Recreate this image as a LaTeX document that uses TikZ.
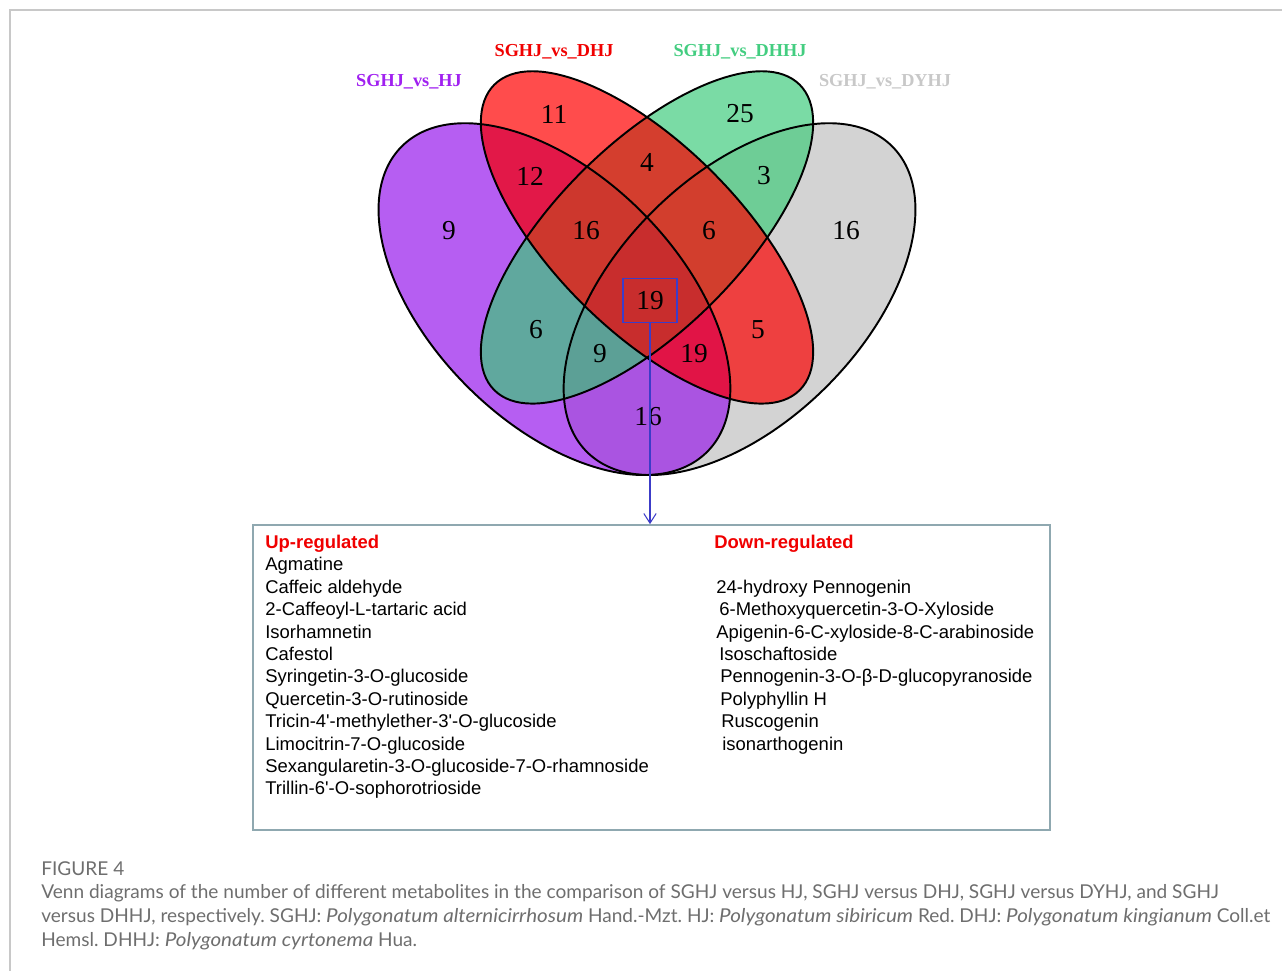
\documentclass[tikz,border=0pt]{standalone}
\usepackage{fontspec}
\setmainfont{Liberation Serif}
\newfontfamily\arialfont{Liberation Sans}
\newfontfamily\capfont{Lato}
\usetikzlibrary{arrows.meta}
\frenchspacing
\newcommand{\species}[1]{{\itshape\addfontfeature{FakeStretch=1.08}#1}}

% set fills (one colour per exact region)
\definecolor{cP}{RGB}{182,94,242}
\definecolor{cR}{RGB}{255,76,76}
\definecolor{cG}{RGB}{122,219,165}
\definecolor{cY}{RGB}{211,211,211}
\definecolor{cPR}{RGB}{226,24,72}
\definecolor{cPG}{RGB}{96,168,158}
\definecolor{cPY}{RGB}{170,84,225}
\definecolor{cRG}{RGB}{212,62,46}
\definecolor{cRY}{RGB}{238,64,64}
\definecolor{cGY}{RGB}{110,205,150}
\definecolor{cPRG}{RGB}{205,55,45}
\definecolor{cPRY}{RGB}{225,20,70}
\definecolor{cPGY}{RGB}{92,160,150}
\definecolor{cRGY}{RGB}{210,62,45}
\definecolor{cAll}{RGB}{200,45,45}
% labels, box, caption
\definecolor{labpurple}{RGB}{160,32,240}
\definecolor{labred}{RGB}{240,0,0}
\definecolor{labgreen}{RGB}{67,205,128}
\definecolor{labgray}{RGB}{200,200,200}
\definecolor{arrowblue}{RGB}{60,60,200}
\definecolor{boxgray}{RGB}{143,168,176}
\definecolor{capgray}{RGB}{110,110,110}
\definecolor{framegray}{RGB}{200,200,200}

\newcommand{\ellHJ}{(0.35,0.47) ellipse [x radius=0.35, y radius=0.2, rotate=-45]}
\newcommand{\ellDHJ}{(0.5,0.57) ellipse [x radius=0.35, y radius=0.15, rotate=-45]}
\newcommand{\ellDHHJ}{(0.5,0.57) ellipse [x radius=0.35, y radius=0.15, rotate=45]}
\newcommand{\ellDYHJ}{(0.65,0.47) ellipse [x radius=0.35, y radius=0.2, rotate=45]}

\tikzset{
  venn line/.style={draw=black, line width=1.1pt},
  setlabel/.style={inner sep=0pt, font=\fontsize{10.4pt}{12pt}\selectfont\bfseries},
  count/.style={inner sep=0pt, font=\fontsize{15.6pt}{18pt}\selectfont},
  listhead/.style={anchor=base west, inner sep=0pt, text=labred, font=\arialfont\fontsize{10.5pt}{12.7pt}\selectfont\bfseries},
  listitem/.style={anchor=base west, inner sep=0pt, font=\arialfont\fontsize{10.5pt}{12.7pt}\selectfont},
  captext/.style={anchor=base west, inner sep=0pt, text=capgray, font=\capfont\fontsize{10.85pt}{13pt}\selectfont},
}

\begin{document}
\begin{tikzpicture}[x=0.02cm, y=0.02cm]
\useasboundingbox (0,0) rectangle (1282,-971);
\draw[framegray, line width=0.8pt] (1282,-10) -- (10,-10) -- (10,-971);

% Venn: regions painted from single sets up to all four
\begin{scope}[shift={(338.5,-589.1)}, scale=617]
\fill[cP] \ellHJ;
\fill[cR] \ellDHJ;
\fill[cG] \ellDHHJ;
\fill[cY] \ellDYHJ;
\begin{scope} \clip \ellHJ; \fill[cPR] \ellDHJ; \end{scope}
\begin{scope} \clip \ellHJ; \fill[cPG] \ellDHHJ; \end{scope}
\begin{scope} \clip \ellHJ; \fill[cPY] \ellDYHJ; \end{scope}
\begin{scope} \clip \ellDHJ; \fill[cRG] \ellDHHJ; \end{scope}
\begin{scope} \clip \ellDHJ; \fill[cRY] \ellDYHJ; \end{scope}
\begin{scope} \clip \ellDHHJ; \fill[cGY] \ellDYHJ; \end{scope}
\begin{scope} \clip \ellHJ; \clip \ellDHJ; \fill[cPRG] \ellDHHJ; \end{scope}
\begin{scope} \clip \ellHJ; \clip \ellDHJ; \fill[cPRY] \ellDYHJ; \end{scope}
\begin{scope} \clip \ellHJ; \clip \ellDHHJ; \fill[cPGY] \ellDYHJ; \end{scope}
\begin{scope} \clip \ellDHJ; \clip \ellDHHJ; \fill[cRGY] \ellDYHJ; \end{scope}
\begin{scope} \clip \ellHJ; \clip \ellDHJ; \clip \ellDHHJ; \fill[cAll] \ellDYHJ; \end{scope}
\draw[venn line] \ellHJ;
\draw[venn line] \ellDHJ;
\draw[venn line] \ellDHHJ;
\draw[venn line] \ellDYHJ;
\end{scope}

% set names
\node[setlabel, text=labpurple] (labHJ) at (409,-82) {SGHJ\_vs\_HJ};
\node[setlabel, text=labred] (labDHJ) at (554,-52) {SGHJ\_vs\_DHJ};
\node[setlabel, text=labgreen] (labDHHJ) at (740,-52) {SGHJ\_vs\_DHHJ};
\node[setlabel, text=labgray] (labDYHJ) at (885,-82) {SGHJ\_vs\_DYHJ};

% counts
\node[count] (nP) at (449,-231) {9};
\node[count] (nR) at (554,-114) {11};
\node[count] (nG) at (740,-114) {25};
\node[count] (nY) at (846,-231) {16};
\node[count] (nPR) at (530,-176) {12};
\node[count] (nRG) at (647,-162) {4};
\node[count] (nGY) at (764,-176) {3};
\node[count] (nPRG) at (586,-231) {16};
\node[count] (nRGY) at (709,-231) {6};
\node[count] (nPG) at (536,-330) {6};
\node[count] (nRY) at (758,-330) {5};
\node[count] (nPGY) at (600,-354) {9};
\node[count] (nPRY) at (694,-354) {19};
\node[count] (nPY) at (648,-417) {16};
\node[count, draw=arrowblue, line width=0.6pt, minimum width=1.08cm, minimum height=0.88cm] (nAll) at (650,-300.5) {19};

% metabolite list
\node[draw=boxgray, line width=1pt, minimum width=15.94cm, minimum height=6.1cm, inner sep=0pt] (list) at (651.5,-677.5) {};
\draw[arrowblue, line width=0.6pt, -{Straight Barb[length=5.5pt, width=7pt]}] (nAll.south) -- (nAll.south |- list.north);

\node[listhead] (uphead) at (265,-548.5) {Up-regulated};
\foreach \t [count=\i] in {Agmatine, Caffeic aldehyde, 2-Caffeoyl-L-tartaric acid, Isorhamnetin, Cafestol, Syringetin-3-O-glucoside, Quercetin-3-O-rutinoside, Tricin-4'-methylether-3'-O-glucoside, Limocitrin-7-O-glucoside, Sexangularetin-3-O-glucoside-7-O-rhamnoside, Trillin-6'-O-sophorotrioside}
  \node[listitem] (up\i) at (265,{-548.5-22.4*\i}) {\t};

\node[listhead] (downhead) at (714,-548.5) {Down-regulated};
\foreach \dx/\t [count=\i] in {716/24-hydroxy Pennogenin, 719/6-Methoxyquercetin-3-O-Xyloside, 716/Apigenin-6-C-xyloside-8-C-arabinoside, 719/Isoschaftoside, 720/Pennogenin-3-O-β-D-glucopyranoside, 720/Polyphyllin H, 721/Ruscogenin, 722/isonarthogenin}
  \node[listitem] (down\i) at (\dx,{-548.5-22.4*(\i+1)}) {\t};

% caption
\node[captext] (figno) at (41,-875) {FIGURE 4};
\node[captext] (cap1) at (41,-898) {Venn diagrams of the number of different metabolites in the comparison of SGHJ versus HJ, SGHJ versus DHJ, SGHJ versus DYHJ, and SGHJ};
\node[captext] (cap2) at (41,-922) {versus DHHJ, respectively. SGHJ: \species{Polygonatum alternicirrhosum} Hand.-Mzt. HJ: \species{Polygonatum sibiricum} Red. DHJ: \species{Polygonatum kingianum} Coll.et};
\node[captext] (cap3) at (41,-946) {Hemsl. DHHJ: \species{Polygonatum cyrtonema} Hua.};
\end{tikzpicture}
\end{document}
